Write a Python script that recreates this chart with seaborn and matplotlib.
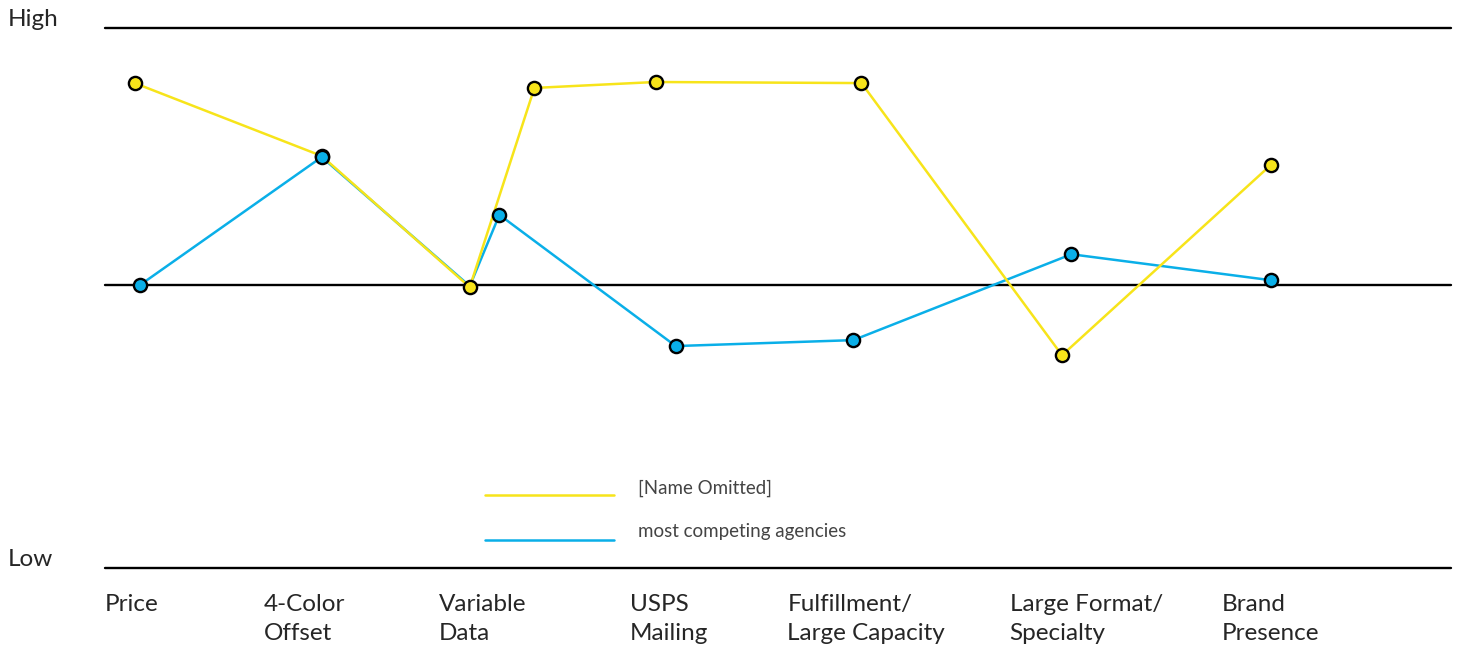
import matplotlib
matplotlib.use('Agg')
import matplotlib.pyplot as plt
import seaborn as sns
import pandas as pd

# position along the axis (0-100) and rating (0 = Low, 100 = High)
categories = ['Price', '4-Color\nOffset', 'Variable\nData', 'USPS\nMailing',
              'Fulfillment/\nLarge Capacity', 'Large Format/\nSpecialty', 'Brand\nPresence']
label_pos = [0.0, 11.8, 24.8, 39.0, 50.7, 67.2, 83.0]

ours_x = [2.2, 16.1, 27.1, 31.9, 40.9, 56.2, 71.1, 86.6]
ours_y = [89.8, 76.3, 52.0, 88.9, 90.0, 89.8, 39.4, 74.6]

comp_x = [2.6, 16.1, 27.1, 29.3, 42.4, 55.6, 71.8, 86.6]
comp_y = [52.4, 76.1, 52.2, 65.4, 41.1, 42.2, 58.1, 53.3]

mid_level = 52.4

series_names = ['[Name Omitted]', 'most competing agencies']
yellow = '#F7E41A'
blue = '#0AAFE8'

sns.set_theme(style='white')
plt.rcParams['font.family'] = ['Lato', 'DejaVu Sans']

fig = plt.figure(figsize=(14.58, 6.5), dpi=100)
ax = fig.add_axes([105 / 1458, 82 / 650, 1346 / 1458, 540 / 650])

ours = pd.DataFrame({'x': ours_x, 'y': ours_y})
comp = pd.DataFrame({'x': comp_x, 'y': comp_y})

for lvl in [0, mid_level, 100]:
    ax.axhline(lvl, color='black', lw=1.7, zorder=1, clip_on=False)

sns.lineplot(data=comp, x='x', y='y', sort=False, estimator=None, ax=ax,
             color=blue, lw=1.8, zorder=2)
sns.lineplot(data=ours, x='x', y='y', sort=False, estimator=None, ax=ax,
             color=yellow, lw=1.8, marker='o', markersize=9.5,
             markerfacecolor=yellow, markeredgecolor='black', markeredgewidth=1.7,
             zorder=3, clip_on=False)
keep = [i for i in range(len(comp_x)) if i != 2]
ax.plot([comp_x[i] for i in keep], [comp_y[i] for i in keep], ls='none',
        marker='o', markersize=9.5, markerfacecolor=blue, markeredgecolor='black',
        markeredgewidth=1.7, zorder=4, clip_on=False)

ax.set_xlim(0, 100)
ax.set_ylim(0, 100)
ax.axis('off')

# legend drawn by hand
for (ly, ty), c, name in zip([(0.135, 0.148), (0.052, 0.067)], [yellow, blue], series_names):
    ax.plot([0.2823, 0.3782], [ly, ly], color=c, lw=1.8, transform=ax.transAxes, clip_on=False)
    ax.text(0.396, ty, name, transform=ax.transAxes, fontsize=13.5, color='#444444',
            va='center', ha='left')

fig.text(8 / 1458, 1 - 19 / 650, 'High', fontsize=17.5, va='center', ha='left')
fig.text(8 / 1458, 1 - 559 / 650, 'Low', fontsize=17.5, va='center', ha='left')

for lab, p in zip(categories, label_pos):
    ax.text(p, -4.9, lab, fontsize=17.5, va='top', ha='left', linespacing=1.45,
            transform=ax.transData, clip_on=False)

fig.savefig('out.png', dpi=100)
